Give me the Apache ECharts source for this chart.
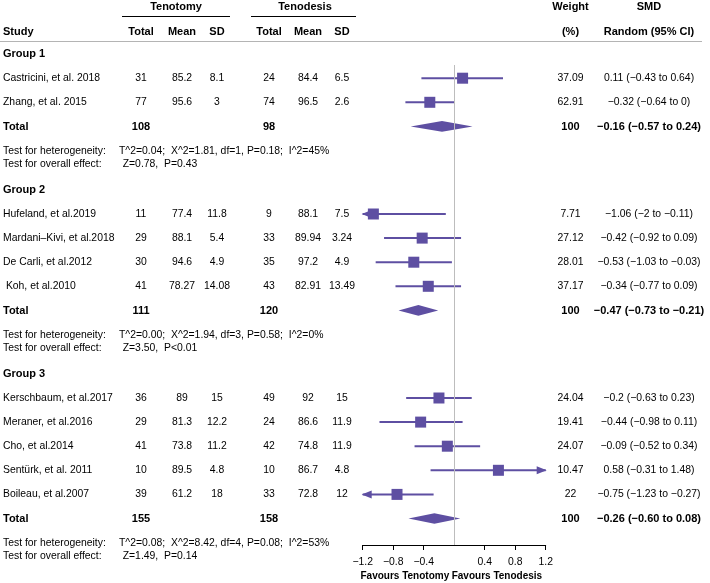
<!DOCTYPE html>
<html><head><meta charset="utf-8">
<script src="https://cdn.jsdelivr.net/npm/echarts@6/dist/echarts.min.js"></script>
<style>html,body{margin:0;padding:0;background:#fff}#c{width:710px;height:583px}</style>
</head><body><div id="c"></div>
<script>
// ---------- DATA ----------
const studies = ["Castricini, et al. 2018","Zhang, et al. 2015","Hufeland, et al.2019","Mardani\u2013Kivi, et al.2018","De Carli, et al.2012"," Koh, et al.2010","Kerschbaum, et al.2017","Meraner, et al.2016","Cho, et al.2014","Sent\u00fcrk, et al. 2011","Boileau, et al.2007"];
const studyGroup = [0,0,1,1,1,1,2,2,2,2,2];
const tenotomyTotal = [31,77,11,29,30,41,36,29,41,10,39];
const tenotomyMean = [85.2,95.6,77.4,88.1,94.6,78.27,89,81.3,73.8,89.5,61.2];
const tenotomySD = [8.1,3,11.8,5.4,4.9,14.08,15,12.2,11.2,4.8,18];
const tenodesisTotal = [24,74,9,33,35,43,49,24,42,10,33];
const tenodesisMean = [84.4,96.5,88.1,89.94,97.2,82.91,92,86.6,74.8,86.7,72.8];
const tenodesisSD = [6.5,2.6,7.5,3.24,4.9,13.49,15,11.9,11.9,4.8,12];
const weights = [37.09,62.91,7.71,27.12,28.01,37.17,24.04,19.41,24.07,10.47,22];
const smd = [0.11,-0.32,-1.06,-0.42,-0.53,-0.34,-0.2,-0.44,-0.09,0.58,-0.75];
const smdLow = [-0.43,-0.64,-2,-0.92,-1.03,-0.77,-0.63,-0.98,-0.52,-0.31,-1.23];
const smdHigh = [0.64,0,-0.11,0.09,-0.03,0.09,0.23,0.11,0.34,1.48,-0.27];

const groups = ["Group 1","Group 2","Group 3"];
const groupTenotomyTotal = [108,111,155];
const groupTenodesisTotal = [98,120,158];
const groupWeight = [100,100,100];
const groupSmd = [-0.16,-0.47,-0.26];
const groupLow = [-0.57,-0.73,-0.60];
const groupHigh = [0.24,-0.21,0.08];
const hetTau2 = [0.04,0.00,0.08];
const hetChi2 = [1.81,1.94,8.42];
const hetDf = [1,3,4];
const hetP = [0.18,0.58,0.08];
const hetI2 = [45,0,53];
const overallZ = [0.78,3.50,1.49];
const overallP = [0.43,0.01,0.14];
const overallPLess = [false,true,false];

const xTicks = [-1.2,-0.8,-0.4,0.4,0.8,1.2];
const XMIN = -1.2, XMAX = 1.2;

// ---------- LAYOUT ----------
const COLOR = '#5e4fa2';
const FONT = 'Liberation Sans, Arial, Helvetica, sans-serif';
const FS = 10.4, FSB = 11;
const STEP = 24.1;
const TY = 0.9; // text vertical nudge
const col = {name:3, n1:141, m1:182, sd1:217, n2:269, m2:308, sd2:342, w:570.5, smd:649, het:119, ov:122.7};

const minus = s => String(s).replace(/-/g,'\u2212');
const rows = [];
let yy = -11.7;
groups.forEach((g, gi) => {
  rows.push({kind:'group', y:yy, gi});
  studies.forEach((s, si) => {
    if (studyGroup[si] !== gi) return;
    yy += STEP; rows.push({kind:'study', y:yy, si});
  });
  yy += STEP; rows.push({kind:'total', y:yy, gi});
  yy += 25; rows.push({kind:'het', y:yy, gi});
  yy += 12.5; rows.push({kind:'ov', y:yy, gi});
  yy += 26;
});

const forestData = [];
rows.forEach(r => {
  if (r.kind === 'study') forestData.push([smd[r.si], smdLow[r.si], smdHigh[r.si], r.y, 0]);
  if (r.kind === 'total') forestData.push([groupSmd[r.gi], groupLow[r.gi], groupHigh[r.gi], r.y, 1]);
});

function txt(text, x, y, align, bold, size) {
  return {type:'text', style:{text:text, x:x, y:y + TY, align:align, verticalAlign:'middle',
    fontFamily:FONT, fontSize: size || (bold ? FSB : FS), fontWeight: bold ? 'bold' : 'normal', fill:'#000'}};
}

function renderText(params, api) {
  const r = rows[params.dataIndex];
  const y = api.coord([0, r.y])[1];
  const c = [];
  if (r.kind === 'group') {
    c.push(txt(groups[r.gi], col.name, y, 'left', true));
  } else if (r.kind === 'study') {
    const i = r.si;
    c.push(txt(studies[i], col.name, y, 'left', false));
    c.push(txt(String(tenotomyTotal[i]), col.n1, y, 'center', false));
    c.push(txt(String(tenotomyMean[i]), col.m1, y, 'center', false));
    c.push(txt(String(tenotomySD[i]), col.sd1, y, 'center', false));
    c.push(txt(String(tenodesisTotal[i]), col.n2, y, 'center', false));
    c.push(txt(String(tenodesisMean[i]), col.m2, y, 'center', false));
    c.push(txt(String(tenodesisSD[i]), col.sd2, y, 'center', false));
    c.push(txt(String(weights[i]), col.w, y, 'center', false));
    c.push(txt(minus(smd[i]) + ' (' + minus(smdLow[i]) + ' to ' + minus(smdHigh[i]) + ')', col.smd, y, 'center', false));
  } else if (r.kind === 'total') {
    const g = r.gi;
    c.push(txt('Total', col.name, y, 'left', true));
    c.push(txt(String(groupTenotomyTotal[g]), col.n1, y, 'center', true));
    c.push(txt(String(groupTenodesisTotal[g]), col.n2, y, 'center', true));
    c.push(txt(String(groupWeight[g]), col.w, y, 'center', true));
    c.push(txt(minus(groupSmd[g].toFixed(2)) + ' (' + minus(groupLow[g].toFixed(2)) + ' to ' + minus(groupHigh[g].toFixed(2)) + ')', col.smd, y, 'center', true));
  } else if (r.kind === 'het') {
    const g = r.gi;
    c.push(txt('Test for heterogeneity:', col.name, y, 'left', false));
    c.push(txt('T^2=' + hetTau2[g].toFixed(2) + ';  X^2=' + hetChi2[g].toFixed(2) + ', df=' + hetDf[g] + ', P=' + hetP[g].toFixed(2) + ';  I^2=' + hetI2[g] + '%', col.het, y, 'left', false));
  } else if (r.kind === 'ov') {
    const g = r.gi;
    c.push(txt('Test for overall effect:', col.name, y, 'left', false));
    c.push(txt('Z=' + overallZ[g].toFixed(2) + ',  P' + (overallPLess[g] ? '<' : '=') + overallP[g].toFixed(2), col.ov, y, 'left', false));
  }
  return {type:'group', children:c};
}

function renderForest(params, api) {
  const est = api.value(0), lo = api.value(1), hi = api.value(2), yv = api.value(3), kind = api.value(4);
  const p = api.coord([est, yv]);
  const pl = api.coord([Math.max(lo, XMIN), yv]);
  const ph = api.coord([Math.min(hi, XMAX), yv]);
  const y = p[1] + 0.8;
  const ch = [];
  if (kind === 1) {
    ch.push({type:'polygon', shape:{points:[[pl[0],y],[p[0],y-5.3],[ph[0],y],[p[0],y+5.3]]}, style:{fill:COLOR}});
  } else {
    ch.push({type:'line', shape:{x1:pl[0], y1:y, x2:ph[0], y2:y}, style:{stroke:COLOR, lineWidth:2}});
    if (lo < XMIN) ch.push({type:'polygon', shape:{points:[[pl[0]-1,y],[pl[0]+9,y-4],[pl[0]+9,y+4]]}, style:{fill:COLOR}});
    if (hi > XMAX) ch.push({type:'polygon', shape:{points:[[ph[0]+1,y],[ph[0]-9,y-4],[ph[0]-9,y+4]]}, style:{fill:COLOR}});
    ch.push({type:'rect', shape:{x:p[0]-5.5, y:y-5.5, width:11, height:11}, style:{fill:COLOR}});
  }
  return {type:'group', children:ch};
}

const headerTop = [["Tenotomy",176],["Tenodesis",305],["Weight",570.5],["SMD",649]];
const headerSub = [["Total",141],["Mean",182],["SD",217],["Total",269],["Mean",308],["SD",342],["(%)",570.5],["Random (95% CI)",649]];

const graphics = [];
headerTop.forEach(h => graphics.push({type:'text', x:h[1], y:6.8, style:{text:h[0], align:'center', verticalAlign:'middle', fontFamily:FONT, fontSize:FSB, fontWeight:'bold', fill:'#000'}}));
graphics.push({type:'text', x:3, y:31.5, style:{text:'Study', align:'left', verticalAlign:'middle', fontFamily:FONT, fontSize:FSB, fontWeight:'bold', fill:'#000'}});
headerSub.forEach(h => graphics.push({type:'text', x:h[1], y:31.5, style:{text:h[0], align:'center', verticalAlign:'middle', fontFamily:FONT, fontSize:FSB, fontWeight:'bold', fill:'#000'}}));
graphics.push({type:'line', shape:{x1:122, y1:16.5, x2:230, y2:16.5}, style:{stroke:'#000', lineWidth:1}});
graphics.push({type:'line', shape:{x1:251, y1:16.5, x2:356, y2:16.5}, style:{stroke:'#000', lineWidth:1}});
graphics.push({type:'line', shape:{x1:0, y1:41.5, x2:702, y2:41.5}, style:{stroke:'#b4b4b4', lineWidth:1}});

const chart = echarts.init(document.getElementById('c'), null, {renderer:'canvas'});
const option = {
  animation:false,
  backgroundColor:'#fff',
  grid:{left:362.7, width:183, top:65, height:480},
  xAxis:{type:'value', position:'bottom', min:XMIN, max:XMAX, interval:0.4,
    axisLine:{show:true, onZero:false, lineStyle:{color:'#000', width:1}},
    axisTick:{show:true, length:5, lineStyle:{color:'#000'}, customValues:xTicks},
    axisLabel:{show:true, color:'#000', fontFamily:FONT, fontSize:10.4, margin:12, customValues:xTicks, formatter:v => minus(v)},
    splitLine:{show:false}},
  yAxis:{type:'value', inverse:true, min:0, max:480, show:false},
  graphic:graphics,
  series:[
    {type:'custom', renderItem:renderForest, data:forestData, encode:{x:0, y:3}, clip:false, silent:true,
     markLine:{silent:true, symbol:'none', label:{show:false}, lineStyle:{color:'#bdbdbd', width:1, type:'solid'}, data:[{xAxis:0}]}},
    {type:'custom', renderItem:renderText, data:rows.map(r => [0, r.y]), encode:{x:0, y:1}, clip:false, silent:true}
  ]
};
chart.setOption(option);
const zx = chart.convertToPixel({xAxisIndex:0}, 0);
chart.setOption({graphic:graphics.concat([
  {type:'text', x:zx-5, y:575.8, style:{text:'Favours Tenotomy', align:'right', verticalAlign:'middle', fontFamily:FONT, fontSize:10, fontWeight:'bold', fill:'#000'}},
  {type:'text', x:zx-2.5, y:575.8, style:{text:'Favours Tenodesis', align:'left', verticalAlign:'middle', fontFamily:FONT, fontSize:10, fontWeight:'bold', fill:'#000'}}
])});
</script></body></html>
